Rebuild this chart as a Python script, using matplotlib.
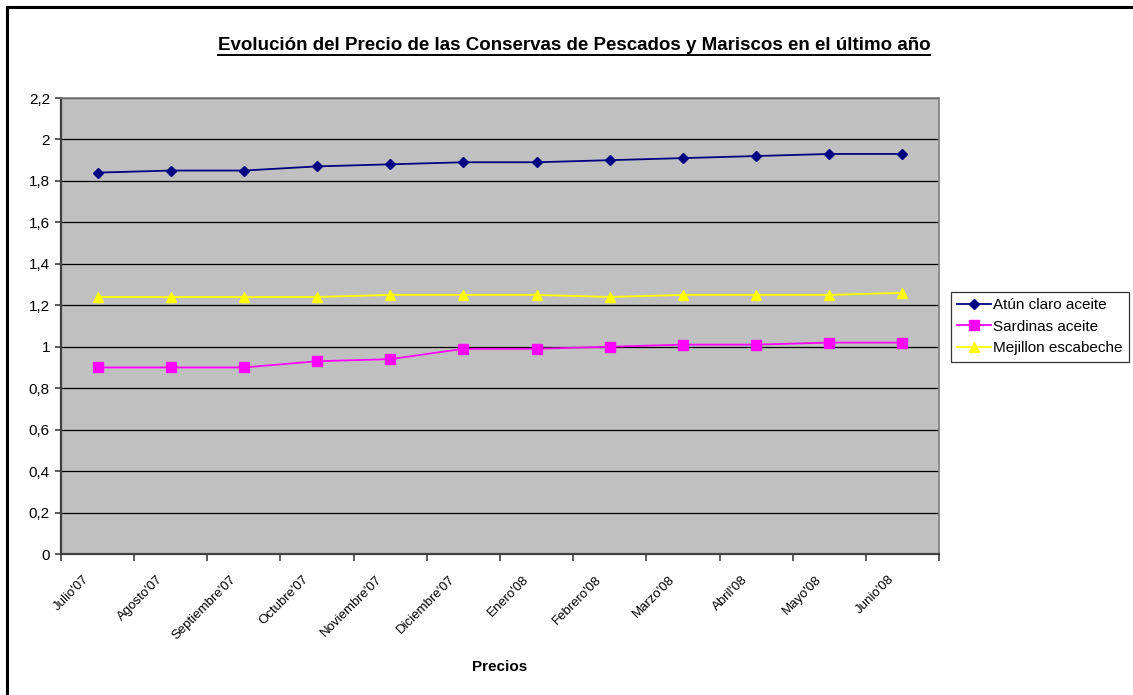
import matplotlib
matplotlib.use("Agg")
import matplotlib.pyplot as plt
from matplotlib.lines import Line2D
from matplotlib.ticker import FuncFormatter, FixedLocator
from matplotlib.transforms import ScaledTranslation

plt.rcParams['font.family'] = ['Liberation Sans', 'DejaVu Sans']

months = ["Julio'07", "Agosto'07", "Septiembre'07", "Octubre'07", "Noviembre'07",
          "Diciembre'07", "Enero'08", "Febrero'08", "Marzo'08", "Abril'08",
          "Mayo'08", "Junio'08"]
atun = [1.84, 1.85, 1.85, 1.87, 1.88, 1.89, 1.89, 1.90, 1.91, 1.92, 1.93, 1.93]
sardinas = [0.90, 0.90, 0.90, 0.93, 0.94, 0.99, 0.99, 1.00, 1.01, 1.01, 1.02, 1.02]
mejillon = [1.24, 1.24, 1.24, 1.24, 1.25, 1.25, 1.25, 1.24, 1.25, 1.25, 1.25, 1.26]
series_names = ["Atún claro aceite", "Sardinas aceite", "Mejillon escabeche"]
yticks = [0, 0.2, 0.4, 0.6, 0.8, 1.0, 1.2, 1.4, 1.6, 1.8, 2.0, 2.2]

W, H = 1133, 695
fig = plt.figure(figsize=(W / 100, H / 100), dpi=100)
fig.patch.set_facecolor('white')

# outer chart frame (top and left visible)
fig.add_artist(Line2D([7 / W, 7 / W], [0, 1 - 7 / H], transform=fig.transFigure, color='black', lw=2.2))
fig.add_artist(Line2D([7 / W, 1], [1 - 7 / H, 1 - 7 / H], transform=fig.transFigure, color='black', lw=2.2))

left, right, top, bottom = 61, 939, 98, 554
ax = fig.add_axes([left / W, 1 - bottom / H, (right - left) / W, (bottom - top) / H])
ax.set_facecolor('#C0C0C0')

x = list(range(len(months)))
ax.plot(x, atun, color='#000080', marker='D', markersize=5.5, lw=1.3, label=series_names[0], zorder=3)
ax.plot(x, sardinas, color='#FF00FF', marker='s', markersize=6.5, lw=1.3, label=series_names[1], zorder=3)
ax.plot(x, mejillon, color='#FFFF00', marker='^', markersize=7, lw=1.3, label=series_names[2], zorder=3)

ax.set_xlim(-0.5, len(months) - 0.5)
ax.set_ylim(0, 2.2)
ax.set_yticks(yticks)
ax.yaxis.set_major_formatter(FuncFormatter(lambda v, p: ('%g' % round(v, 1)).replace('.', ',')))
ax.grid(axis='y', color='black', lw=0.9, zorder=1)
ax.set_axisbelow(True)

# category boundaries as ticks, labels at centers
ax.xaxis.set_major_locator(FixedLocator([i - 0.5 for i in range(len(months) + 1)]))
ax.xaxis.set_major_formatter(FuncFormatter(lambda v, p: ''))
ax.set_xticks(x, minor=True)
ax.set_xticklabels(months, minor=True, rotation=45, ha='right', va='center',
                   rotation_mode='anchor', fontsize=9.5)
ax.tick_params(axis='x', which='minor', length=0, pad=17)
offset = ScaledTranslation(-10 / 100, 0, fig.dpi_scale_trans)
for lbl in ax.get_xticklabels(minor=True):
    lbl.set_transform(lbl.get_transform() + offset)
ax.tick_params(axis='x', which='major', length=5, width=1.2, color='#404040', direction='out')
ax.tick_params(axis='y', length=4, width=1.2, color='#404040', labelsize=11, pad=4)

for s in ['left', 'bottom']:
    ax.spines[s].set_color('#404040')
    ax.spines[s].set_linewidth(1.6)
for s in ['top', 'right']:
    ax.spines[s].set_color('#808080')
    ax.spines[s].set_linewidth(1.2)

fig.text(500 / W, 1 - 667 / H, 'Precios', ha='center', va='center', fontsize=11, fontweight='bold')

title = fig.text(574 / W, 1 - 45 / H,
                 'Evolución del Precio de las Conservas de Pescados y Mariscos en el último año',
                 ha='center', va='center', fontsize=13.5, fontweight='bold')
fig.canvas.draw()
bb = title.get_window_extent()
uy = (bb.y0 - 1) / H
fig.add_artist(Line2D([bb.x0 / W, bb.x1 / W], [uy, uy], transform=fig.transFigure, color='black', lw=1.4))

leg = ax.legend(loc='upper left', bbox_to_anchor=(951 / W, 1 - 292 / H), bbox_transform=fig.transFigure,
                frameon=True, fancybox=False, fontsize=11, handlelength=2.2, handletextpad=0.15,
                borderpad=0.4, labelspacing=0.5, borderaxespad=0)
leg.get_frame().set_edgecolor('black')
leg.get_frame().set_linewidth(0.9)

fig.savefig('out.png', dpi=100)
